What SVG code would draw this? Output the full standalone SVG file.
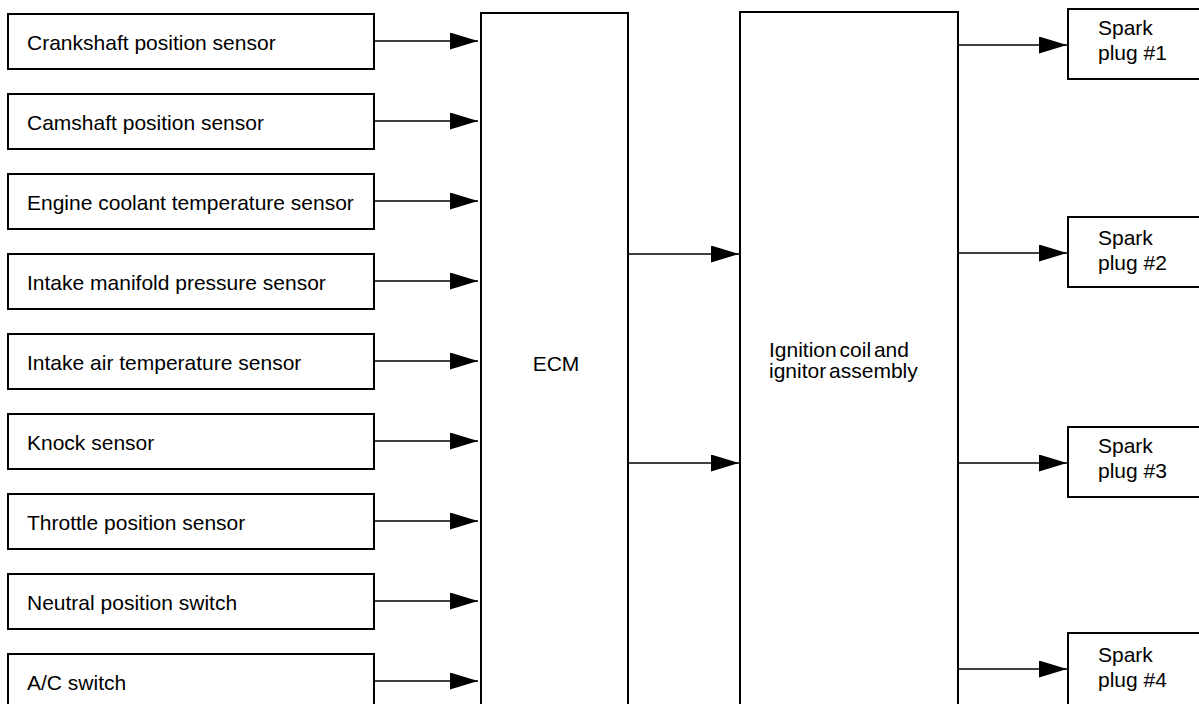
<svg xmlns="http://www.w3.org/2000/svg" width="1199" height="704" viewBox="0 0 1199 704">
<defs>
<marker id="ah" markerUnits="userSpaceOnUse" markerWidth="28" markerHeight="17" viewBox="0 0 28 17" refX="28" refY="8.5" orient="auto">
<path d="M0,0 L28,8.5 L0,17 Z" fill="#000"/>
</marker>
</defs>
<style>
.box{fill:#fff;stroke:#000;stroke-width:2}
.t{font-family:"Liberation Sans",Arial,sans-serif;font-size:21px;fill:#000}
.c{stroke:#000;stroke-width:1.7;fill:none;marker-end:url(#ah)}
</style>
<rect width="1199" height="704" fill="#fff"/>
<g id="n-crank"><rect class="box" x="8" y="14" width="366" height="55"/><text class="t" x="27" y="50">Crankshaft position sensor</text></g>
<g id="n-cam"><rect class="box" x="8" y="94" width="366" height="55"/><text class="t" x="27" y="130">Camshaft position sensor</text></g>
<g id="n-ect"><rect class="box" x="8" y="174" width="366" height="55"/><text class="t" x="27" y="210">Engine coolant temperature sensor</text></g>
<g id="n-map"><rect class="box" x="8" y="254" width="366" height="55"/><text class="t" x="27" y="290">Intake manifold pressure sensor</text></g>
<g id="n-iat"><rect class="box" x="8" y="334" width="366" height="55"/><text class="t" x="27" y="370">Intake air temperature sensor</text></g>
<g id="n-knock"><rect class="box" x="8" y="414" width="366" height="55"/><text class="t" x="27" y="450">Knock sensor</text></g>
<g id="n-tps"><rect class="box" x="8" y="494" width="366" height="55"/><text class="t" x="27" y="530">Throttle position sensor</text></g>
<g id="n-nps"><rect class="box" x="8" y="574" width="366" height="55"/><text class="t" x="27" y="610">Neutral position switch</text></g>
<g id="n-ac"><rect class="box" x="8" y="654" width="366" height="60"/><text class="t" x="27" y="690">A/C switch</text></g>
<g id="n-ecm"><rect class="box" x="481" y="13" width="147" height="710"/><text class="t" x="556" y="371" text-anchor="middle">ECM</text></g>
<g id="n-ign"><rect class="box" x="740" y="12" width="218" height="710"/><text class="t" x="769" y="357" word-spacing="-3">Ignition coil and</text><text class="t" x="769" y="378" word-spacing="-3">ignitor assembly</text></g>
<g id="n-sp1"><rect class="box" x="1068" y="9" width="150" height="70"/><text class="t" x="1098" y="35">Spark</text><text class="t" x="1098" y="60">plug #1</text></g>
<g id="n-sp2"><rect class="box" x="1068" y="217" width="150" height="70"/><text class="t" x="1098" y="245">Spark</text><text class="t" x="1098" y="270">plug #2</text></g>
<g id="n-sp3"><rect class="box" x="1068" y="427" width="150" height="70"/><text class="t" x="1098" y="453">Spark</text><text class="t" x="1098" y="478">plug #3</text></g>
<g id="n-sp4"><rect class="box" x="1068" y="633" width="150" height="80"/><text class="t" x="1098" y="662">Spark</text><text class="t" x="1098" y="687">plug #4</text></g>
<g id="connectors">
<line class="c" x1="374" y1="41" x2="478" y2="41"/>
<line class="c" x1="374" y1="121" x2="478" y2="121"/>
<line class="c" x1="374" y1="201" x2="478" y2="201"/>
<line class="c" x1="374" y1="281" x2="478" y2="281"/>
<line class="c" x1="374" y1="361" x2="478" y2="361"/>
<line class="c" x1="374" y1="441" x2="478" y2="441"/>
<line class="c" x1="374" y1="521" x2="478" y2="521"/>
<line class="c" x1="374" y1="601" x2="478" y2="601"/>
<line class="c" x1="374" y1="681" x2="478" y2="681"/>
<line class="c" x1="628" y1="254" x2="739" y2="254"/>
<line class="c" x1="628" y1="463" x2="739" y2="463"/>
<line class="c" x1="958" y1="45" x2="1067" y2="45"/>
<line class="c" x1="958" y1="253" x2="1067" y2="253"/>
<line class="c" x1="958" y1="463" x2="1067" y2="463"/>
<line class="c" x1="958" y1="669" x2="1067" y2="669"/>
</g>
</svg>
